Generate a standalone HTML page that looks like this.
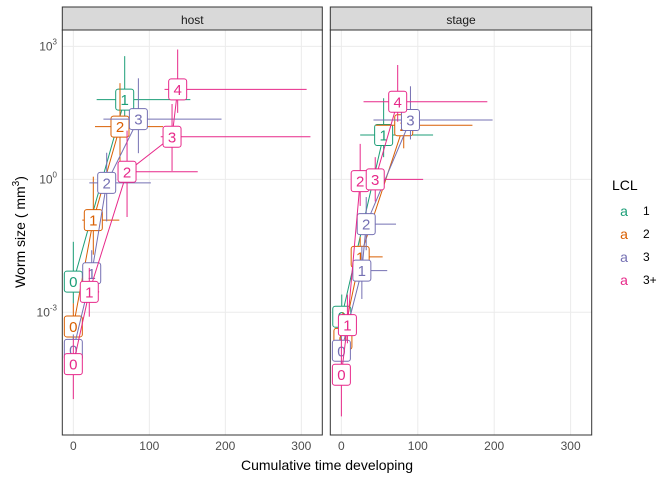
<!DOCTYPE html>
<html><head><meta charset="utf-8">
<style>
body{margin:0;background:#fff;}
svg{display:block;font-family:"Liberation Sans",sans-serif;}
</style></head>
<body>
<svg id="chart" width="672" height="480" viewBox="0 0 672 480">
  <rect width="672" height="480" fill="#fff"/>
</svg>
<script>
// Data
const panels = ["host", "stage"];
const lclLevels = ["1", "2", "3", "3+"];
const lclColors = ["#1B9E77", "#D95F02", "#7570B3", "#E7298A"];
const xTicks = [0, 100, 200, 300];
const yTickExps = [-3, 0, 3];
// host panel, per LCL: stage labels, x (time), log10 size, error ranges
const hostStage = [[0,1],[0,1,2],[0,1,2,3],[0,1,2,3,4]];
const hostX = [[0,67.6],[0,26.3,61.4],[0,24.2,43.9,85.6],[0,21,70.7,129.9,137.3]];
const hostLogY = [[-2.31,1.8],[-3.32,-0.92,1.19],[-3.85,-2.12,-0.08,1.36],[-4.17,-2.54,0.17,0.96,2.03]];
const hostXLo = [[0,30.7],[0,11.8,28.5],[0,20,21,39.6],[0,15,60,115,120]];
const hostXHi = [[0,154],[0,60.5,118],[0,35,102,195],[0,34,163.7,312,307]];
const hostYLo = [[-2.8,1.2],[-3.8,-1.7,0.3],[-4.2,-2.7,-0.95,0.59],[-4.96,-3.1,-0.85,0.19,1.5]];
const hostYHi = [[-1.41,2.78],[-2.8,0.06,2.17],[-3.5,-1.6,0.6,2.28],[-3.6,-2.0,1.1,1.7,2.93]];
// stage panel
const stageStage = [[0,1],[0,1,2],[0,1,2,3],[0,1,2,3,4]];
const stageX = [[0.5,55.3],[2,24.6,81.6],[0,26.8,32.5,90.4],[0,7.9,24.6,44.3,73.7]];
const stageLogY = [[-3.1,1.0],[-3.6,-1.75,1.22],[-3.87,-2.06,-1.01,1.34],[-4.41,-3.29,-0.04,0,1.75]];
const stageXLo = [[0,24.6],[0,15,45],[0,20,25,42],[0,4,18,30,29]];
const stageXHi = [[0,120],[0,54,171.5],[0,60,71.5,197.9],[0,12,30,107,191]];
const stageYLo = [[-3.6,0.5],[-4.0,-2.3,0.7],[-4.2,-2.7,-1.6,0.9],[-5.35,-3.7,-0.6,-0.5,1.3]];
const stageYHi = [[-2.6,1.83],[-3.0,-1.3,1.6],[-3.4,-1.5,-0.4,2.1],[-3.6,-2.6,0.8,0.5,2.58]];

const panelData = [
  {stage:hostStage,x:hostX,y:hostLogY,xlo:hostXLo,xhi:hostXHi,ylo:hostYLo,yhi:hostYHi},
  {stage:stageStage,x:stageX,y:stageLogY,xlo:stageXLo,xhi:stageXHi,ylo:stageYLo,yhi:stageYHi}
];
const panelBox = [{x0:62.3,x1:322.3},{x0:330.3,x1:591.7}];
const PY0 = 30, PY1 = 435, STRIP0 = 7;
const XMIN = -14.5, XMAX = 327.6, YMIN = -5.77, YMAX = 3.37;

const NS = "http://www.w3.org/2000/svg";
const svg = document.getElementById("chart");
function mk(tag, attrs, parent){
  const e = document.createElementNS(NS, tag);
  for (const k in attrs) e.setAttribute(k, attrs[k]);
  (parent||svg).appendChild(e);
  return e;
}
function yScale(v){ return PY1 - (v - YMIN) / (YMAX - YMIN) * (PY1 - PY0); }

panels.forEach((name, pi) => {
  const b = panelBox[pi];
  const xs = v => b.x0 + (v - XMIN) / (XMAX - XMIN) * (b.x1 - b.x0);
  const g = mk("g", {});
  
  
  // grid
  xTicks.forEach(t => {
    const l = mk("line", {x1:xs(t), x2:xs(t), y1:PY0, y2:PY1, stroke:"#ebebeb", "stroke-width":1}, g);
    
    
    const tl = mk("text", {x:xs(t), y:450, "text-anchor":"middle", "font-size":12, fill:"#4d4d4d"}, g);
    tl.textContent = t;
    
    
  });
  yTickExps.forEach(t => {
    const l = mk("line", {x1:b.x0, x2:b.x1, y1:yScale(t), y2:yScale(t), stroke:"#ebebeb", "stroke-width":1}, g);
    
    
    if (pi === 0) {
      const tl = mk("text", {x:57, y:yScale(t)+4, "text-anchor":"end", "font-size":12, fill:"#4d4d4d"}, g);
      
      
      tl.appendChild(document.createTextNode("10"));
      const sup = mk("tspan", {dy:-6, "font-size":8}, tl);
      sup.textContent = t;
    }
  });
  // series
  const d = panelData[pi];
  lclLevels.forEach((lv, si) => {
    const c = lclColors[si];
    const n = d.x[si].length;
    // connecting line
    let pts = [];
    for (let i=0;i<n;i++) pts.push(xs(d.x[si][i]) + "," + yScale(d.y[si][i]));
    const pl = mk("polyline", {points:pts.join(" "), fill:"none", stroke:c, "stroke-width":1}, g);
    
    
    for (let i=0;i<n;i++){
      const cx = xs(d.x[si][i]), cy = yScale(d.y[si][i]);
      const eh = mk("line", {x1:xs(d.xlo[si][i]), x2:xs(d.xhi[si][i]), y1:cy, y2:cy, stroke:c, "stroke-width":1}, g);
      
      
      const ev = mk("line", {x1:cx, x2:cx, y1:yScale(d.ylo[si][i]), y2:yScale(d.yhi[si][i]), stroke:c, "stroke-width":1}, g);
      
      
    }
    for (let i=0;i<n;i++){
      const cx = xs(d.x[si][i]), cy = yScale(d.y[si][i]);
      const r = mk("rect", {x:cx-9, y:cy-10.5, width:18, height:21, rx:2.5, fill:"#fff", stroke:c, "stroke-width":1}, g);
      
      
      const t = mk("text", {x:cx, y:cy+5.5, "text-anchor":"middle", "font-size":15, fill:c}, g);
      t.textContent = d.stage[si][i];
      
      
    }
  });
  // strip + border
  const s = mk("rect", {x:b.x0, y:STRIP0, width:b.x1-b.x0, height:PY0-STRIP0, fill:"#d9d9d9", stroke:"#333", "stroke-width":1}, g);
  
  
  const st = mk("text", {x:(b.x0+b.x1)/2, y:24, "text-anchor":"middle", "font-size":12, fill:"#1a1a1a"}, g);
  st.textContent = name;
  
  
  const br = mk("rect", {x:b.x0, y:PY0, width:b.x1-b.x0, height:PY1-PY0, fill:"none", stroke:"#333", "stroke-width":1}, g);
  
  
});

// axis titles
const xt = mk("text", {x:327, y:470, "text-anchor":"middle", "font-size":14, fill:"#000"});
xt.textContent = "Cumulative time developing";


const yt = mk("text", {x:0, y:0, "text-anchor":"middle", "font-size":14, fill:"#000", transform:"translate(25,232) rotate(-90)"});


yt.appendChild(document.createTextNode("Worm size ( mm"));
const ys = mk("tspan", {dy:-6, "font-size":10}, yt); ys.textContent = "3";
const ye = mk("tspan", {dy:6}, yt); ye.textContent = ")";

// legend
const lt = mk("text", {x:612, y:190, "font-size":14, fill:"#000"});
lt.textContent = "LCL";


lclLevels.forEach((lv, i) => {
  const y = 216 + i*23;
  const a = mk("text", {x:624, y:y, "text-anchor":"middle", "font-size":14, fill:lclColors[i]});
  a.textContent = "a";
  
  
  const l = mk("text", {x:643, y:y-1, "font-size":12, fill:"#000"});
  l.textContent = lv;
  
  
});
</script>
</body></html>
